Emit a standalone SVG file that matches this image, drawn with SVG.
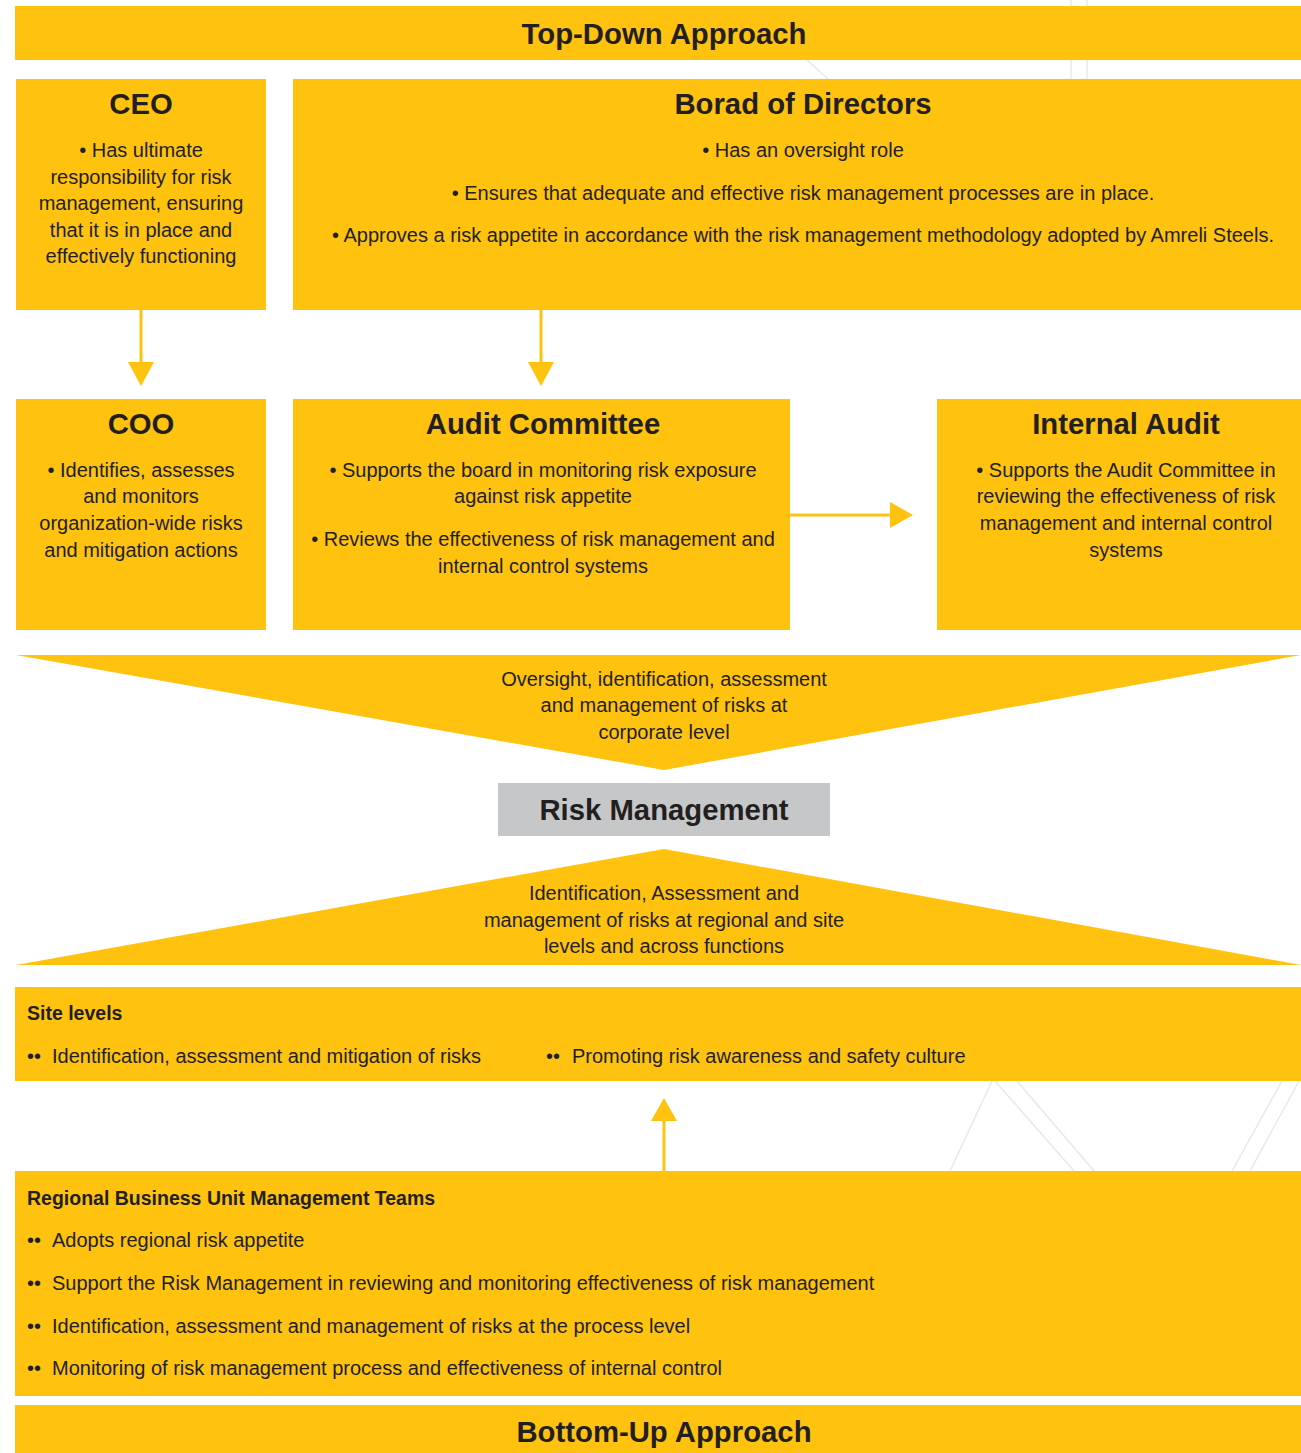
<svg xmlns="http://www.w3.org/2000/svg" width="1301" height="1453" viewBox="0 0 1301 1453">
<style>
.box{fill:#FFC20E}
.t{font-family:"Liberation Sans",Arial,sans-serif;fill:#231F20}
.title{font-size:29.3px;font-weight:bold;text-anchor:middle}
.body{font-size:20px;text-anchor:middle}
.left{font-size:20px}
.hd{font-size:19.5px;font-weight:bold}
.bg{stroke:#E8E8E8;stroke-width:1.5;fill:none}
.conn{stroke:#FFC20E;stroke-width:3;fill:none}
.head{fill:#FFC20E}
</style>
<rect width="1301" height="1453" fill="#FFFFFF"/>
<g id="background">
<line class="bg" x1="1071" y1="0" x2="1071" y2="79"/>
<line class="bg" x1="1087" y1="0" x2="1087" y2="79"/>
<line class="bg" x1="807" y1="60" x2="828" y2="79"/>
<line class="bg" x1="950" y1="1171" x2="992" y2="1081"/>
<line class="bg" x1="995" y1="1081" x2="1074" y2="1171"/>
<line class="bg" x1="1017" y1="1081" x2="1094" y2="1171"/>
<line class="bg" x1="1282" y1="1081" x2="1232" y2="1171"/>
<line class="bg" x1="1299" y1="1081" x2="1250" y2="1171"/>
</g>
<g id="connectors">
<line class="conn" x1="141" y1="310" x2="141" y2="364"/>
<polygon class="head" points="128,362 154,362 141,386"/>
<line class="conn" x1="541" y1="310" x2="541" y2="364"/>
<polygon class="head" points="528,362 554,362 541,386"/>
<line class="conn" x1="790" y1="515" x2="892" y2="515"/>
<polygon class="head" points="890,502 890,528 913,515"/>
<line class="conn" x1="664" y1="1171" x2="664" y2="1119"/>
<polygon class="head" points="651,1121 677,1121 664,1098"/>
</g>
<g id="top-down">
<rect class="box" x="15" y="6" width="1286" height="54"/>
<text class="t title" x="664" y="44">Top-Down Approach</text>
</g>
<g id="ceo">
<rect class="box" x="16" y="79" width="250" height="231"/>
<text class="t title" x="141" y="114">CEO</text>
<text class="t body" x="141" y="157">• Has ultimate</text>
<text class="t body" x="141" y="184">responsibility for risk</text>
<text class="t body" x="141" y="210">management, ensuring</text>
<text class="t body" x="141" y="237">that it is in place and</text>
<text class="t body" x="141" y="263">effectively functioning</text>
</g>
<g id="board">
<rect class="box" x="293" y="79" width="1008" height="231"/>
<text class="t title" x="803" y="114">Borad of Directors</text>
<text class="t body" x="803" y="157">• Has an oversight role</text>
<text class="t body" x="803" y="200">• Ensures that adequate and effective risk management processes are in place.</text>
<text class="t body" x="803" y="242">• Approves a risk appetite in accordance with the risk management methodology adopted by Amreli Steels.</text>
</g>
<g id="coo">
<rect class="box" x="16" y="399" width="250" height="231"/>
<text class="t title" x="141" y="434">COO</text>
<text class="t body" x="141" y="477">• Identifies, assesses</text>
<text class="t body" x="141" y="503">and monitors</text>
<text class="t body" x="141" y="530">organization-wide risks</text>
<text class="t body" x="141" y="557">and mitigation actions</text>
</g>
<g id="audit-committee">
<rect class="box" x="293" y="399" width="497" height="231"/>
<text class="t title" x="543" y="434">Audit Committee</text>
<text class="t body" x="543" y="477">• Supports the board in monitoring risk exposure</text>
<text class="t body" x="543" y="503">against risk appetite</text>
<text class="t body" x="543" y="546">• Reviews the effectiveness of risk management and</text>
<text class="t body" x="543" y="573">internal control systems</text>
</g>
<g id="internal-audit">
<rect class="box" x="937" y="399" width="364" height="231"/>
<text class="t title" x="1126" y="434">Internal Audit</text>
<text class="t body" x="1126" y="477">• Supports the Audit Committee in</text>
<text class="t body" x="1126" y="503">reviewing the effectiveness of risk</text>
<text class="t body" x="1126" y="530">management and internal control</text>
<text class="t body" x="1126" y="557">systems</text>
</g>
<g id="corporate-level">
<polygon class="box" points="16,655 1301,655 664,770"/>
<text class="t body" x="664" y="686">Oversight, identification, assessment</text>
<text class="t body" x="664" y="712">and management of risks at</text>
<text class="t body" x="664" y="739">corporate level</text>
</g>
<g id="risk-management">
<rect x="498" y="783" width="332" height="53" fill="#C6C7C9"/>
<text class="t title" x="664" y="820">Risk Management</text>
</g>
<g id="regional-level">
<polygon class="box" points="664,849 1301,965 16,965"/>
<text class="t body" x="664" y="900">Identification, Assessment and</text>
<text class="t body" x="664" y="927">management of risks at regional and site</text>
<text class="t body" x="664" y="953">levels and across functions</text>
</g>
<g id="site-levels">
<rect class="box" x="15" y="987" width="1286" height="94"/>
<text class="t hd" x="27" y="1020">Site levels</text>
<text class="t left" x="27" y="1063">••</text>
<text class="t left" x="52" y="1063">Identification, assessment and mitigation of risks</text>
<text class="t left" x="546" y="1063">••</text>
<text class="t left" x="572" y="1063">Promoting risk awareness and safety culture</text>
</g>
<g id="regional-teams">
<rect class="box" x="15" y="1171" width="1286" height="225"/>
<text class="t hd" x="27" y="1205">Regional Business Unit Management Teams</text>
<text class="t left" x="27" y="1247">••</text>
<text class="t left" x="52" y="1247">Adopts regional risk appetite</text>
<text class="t left" x="27" y="1290">••</text>
<text class="t left" x="52" y="1290">Support the Risk Management in reviewing and monitoring effectiveness of risk management</text>
<text class="t left" x="27" y="1333">••</text>
<text class="t left" x="52" y="1333">Identification, assessment and management of risks at the process level</text>
<text class="t left" x="27" y="1375">••</text>
<text class="t left" x="52" y="1375">Monitoring of risk management process and effectiveness of internal control</text>
</g>
<g id="bottom-up">
<rect class="box" x="15" y="1405" width="1286" height="48"/>
<text class="t title" x="664" y="1442">Bottom-Up Approach</text>
</g>
</svg>
